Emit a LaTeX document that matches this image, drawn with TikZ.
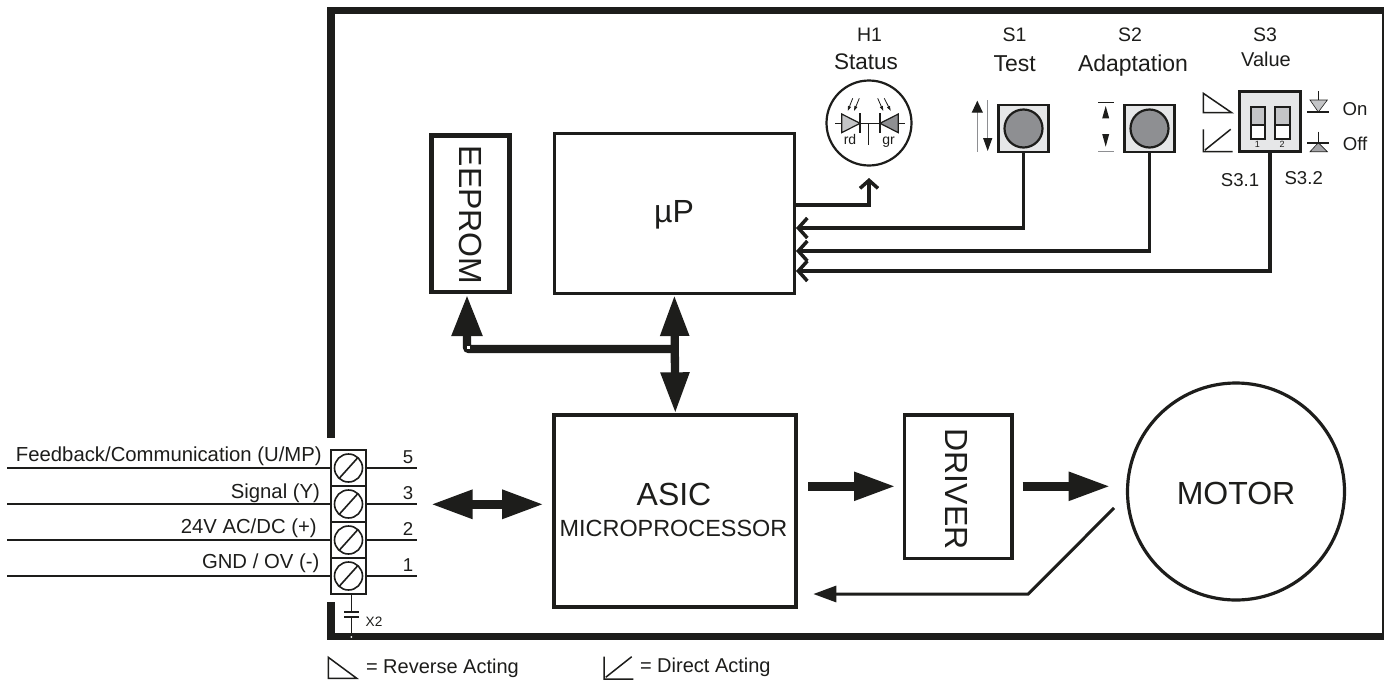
\documentclass[tikz,border=0pt]{standalone}
\usepackage{fontspec}
\setmainfont{Liberation Sans}
\usetikzlibrary{arrows.meta}
\definecolor{ink}{HTML}{1D1D1B}
\definecolor{panel}{HTML}{E6E7E8}
\definecolor{btn}{HTML}{8E8F92}
\definecolor{ltg}{HTML}{C4C5C7}
\newcommand\fsz[1]{\fontsize{#1}{#1}\selectfont}
\tikzset{
  every node/.style={inner sep=0pt,outer sep=0pt,text=ink},
  heavybox/.style={draw=ink,line width=4.2pt,fill=white,align=center},
  thinbox/.style={draw=ink,line width=2.2pt,fill=panel},
  frameline/.style={draw=ink,line width=7.5pt},
  bigarrow/.style={draw=ink,line width=9.3pt,-{Triangle[length=42pt,width=26.5pt,fill=ink]}},
  buswire/.style={draw=ink,line width=8.3pt,{Triangle[length=41pt,width=27pt,fill=ink]}-{Triangle[length=41pt,width=27pt,fill=ink]}},
  sigwire/.style={draw=ink,line width=3.5pt,-{Straight Barb[length=9pt,width=20pt,line width=3.5pt]}},
  wire/.style={draw=ink,line width=1.6pt},
  fine/.style={draw=ink,line width=1.2pt},
  cell/.style={draw=ink,line width=1.6pt,fill=white,minimum width=35pt,minimum height=36pt},
  screw/.style={draw=ink,line width=1.6pt,circle,minimum size=28pt,fill=white}
}
\begin{document}
\begin{tikzpicture}[x=1pt,y=-1pt]
\useasboundingbox (0,0) rectangle (1384,681);
\fill[white] (0,0) rectangle (1384,681);
% frame
\draw[frameline] (1386,636.5) -- (1386,10.5) -- (331,10.5) -- (331,438);
\draw[frameline] (331,602) -- (331,636.5) -- (1386,636.5);
% main boxes
\node[heavybox,line width=4.5pt,minimum width=78pt,minimum height=156.5pt] (eeprom) at (470.5,213.5) {};
\node[rotate=-90,font=\fsz{32}] at (471,215) {EEPROM};
\node[heavybox,line width=3pt,minimum width=240.3pt,minimum height=160pt] (up) at (674.35,213.5) {};
\node[font=\fsz{32},anchor=base] (uplabel) at (674,222) {µP};
\node[heavybox,minimum width=242pt,minimum height=192pt] (asic) at (675.3,511.3) {};
\node[font=\fsz{32},anchor=base] (asiclabel) at (674,505) {ASIC};
\node[font=\fsz{23.4},anchor=base] (asicsub) at (673.5,536) {MICROPROCESSOR};
\node[heavybox,line width=3.5pt,minimum width=107.8pt,minimum height=143.2pt] (driver) at (958.3,486.7) {};
\node[rotate=-90,font=\fsz{32}] at (956.7,489) {DRIVER};
\node[draw=ink,line width=3.2pt,circle,minimum size=217pt,fill=white] (motor) at (1236,491.5) {};
\node[font=\fsz{32},anchor=base] (motorlabel) at (1236,504) {MOTOR};
% H1
\node[draw=ink,line width=2.2pt,circle,minimum size=85pt,fill=white] (h1) at (869,123) {};
\node[font=\fsz{19.5},anchor=base] at (869.6,41.3) {H1};
\node[font=\fsz{22.5},anchor=base] at (866,69.3) {Status};
\draw[fine] (835,123.3) -- (905,123.3);
\draw[fine] (868.7,123.3) -- (868.7,145);
\draw[fine,fill=ltg] (841.7,114) -- (841.7,132.7) -- (860,123.3) -- cycle;
\draw[fine,fill=btn] (898.3,114) -- (898.3,132.7) -- (880,123.3) -- cycle;
\draw[fine] (860,113.3) -- (860,133.3) (880,113.3) -- (880,133.3);
\foreach \a/\b/\c/\d in {852.7/98.3/847.7/111,859.3/98.3/854/111,877.7/98.3/883.3/111,884.3/98.3/890.7/111}
  \draw[draw=ink,line width=.8pt,-{Triangle[length=5pt,width=3pt]}] (\a,\b) -- (\c,\d);
\node[font=\fsz{14},anchor=base] (rd) at (850,144) {rd};
\node[font=\fsz{14},anchor=base] (gr) at (888.5,144) {gr};
% S1
\node[font=\fsz{19.5},anchor=base] at (1014.6,41.3) {S1};
\node[font=\fsz{23},anchor=base] at (1014.7,71) {Test};
\node[thinbox,minimum width=50pt,minimum height=47pt] (s1) at (1023.5,128.5) {};
\node[draw=ink,line width=2.2pt,circle,minimum size=38pt,fill=btn] (s1b) at (1023.5,128.5) {};
\draw[draw=btn,line width=1.2pt,-{Triangle[length=12pt,width=11pt,color=ink]}] (977.3,151.7) -- (977.3,100.7);
\draw[draw=btn,line width=1.2pt,-{Triangle[length=13pt,width=9pt,color=ink]}] (987.7,100) -- (987.7,151);
% S2
\node[font=\fsz{19.5},anchor=base] at (1130,41.3) {S2};
\node[font=\fsz{23},anchor=base] at (1133,71) {Adaptation};
\node[thinbox,minimum width=50pt,minimum height=47pt] (s2) at (1149.5,128.5) {};
\node[draw=ink,line width=2.2pt,circle,minimum size=38pt,fill=btn] (s2b) at (1149.5,128.5) {};
\draw[fine] (1098,102.3) -- (1114,102.3);
\draw[draw=btn,line width=1.2pt] (1098,151.7) -- (1114,151.7);
\fill[ink] (1105.7,106) -- (1102.2,118.3) -- (1109.2,118.3) -- cycle;
\fill[ink] (1105.7,146.7) -- (1102.2,134) -- (1109.2,134) -- cycle;
% S3
\node[font=\fsz{19.5},anchor=base] at (1265,41.3) {S3};
\node[font=\fsz{20},anchor=base] at (1266,66) {Value};
\node[thinbox,minimum width=61pt,minimum height=60pt] (s3) at (1270,121.5) {};
\foreach \xa/\xb in {1250.7/1265,1275/1290}{
  \fill[white] (\xa,125) rectangle (\xb,139);
  \fill[ltg] (\xa,106.7) rectangle (\xb,125);
  \draw[draw=ink,line width=2pt] (\xa,106.7) rectangle (\xb,139) (\xa,125) -- (\xb,125);
}
\node[font=\fsz{9},anchor=base] at (1257.3,147.7) {1};
\node[font=\fsz{9},anchor=base] at (1282,147.7) {2};
\draw[fine,line width=1.5pt] (1203.3,93.3) -- (1203.3,112.7) -- (1231.7,112.7) -- cycle;
\draw[fine,line width=1.5pt] (1203.3,129.3) -- (1203.3,151.7) -- (1232.7,151.7) (1205,150) -- (1230.7,129.3);
\draw[fine] (1318.3,91) -- (1318.3,100);
\draw[draw=ink,line width=.6pt,fill=ltg] (1310,100) -- (1327.3,100) -- (1318.3,112) -- cycle;
\draw[draw=ink,line width=1.8pt] (1307.3,111.7) -- (1329,111.7);
\draw[fine] (1318.3,131.7) -- (1318.3,143);
\draw[draw=ink,line width=.6pt,fill=btn!80!white] (1310,151.7) -- (1327.3,151.7) -- (1318.3,142.7) -- cycle;
\draw[draw=ink,line width=1.8pt] (1307.3,142.7) -- (1329,142.7);
\node[font=\fsz{18.6},anchor=base] at (1355,115) {On};
\node[font=\fsz{18.6},anchor=base] at (1355,150.7) {Off};
\node[font=\fsz{18.6},anchor=base] at (1240,186) {S3.1};
\node[font=\fsz{18.6},anchor=base] at (1303.7,184) {S3.2};
% uP connectors
\coordinate (pin0) at (796,205);
\coordinate (pin1) at (796,228);
\coordinate (pin2) at (796,251);
\coordinate (pin3) at (796,271);
\coordinate (h1in) at (869,178);
\draw[sigwire,-{Straight Barb[length=8pt,width=18pt,line width=3.5pt]}] (pin0) -| (h1in);
\draw[sigwire] (s1.south) |- (pin1);
\draw[sigwire] (s2.south) |- (pin2);
\draw[sigwire] (s3.south) |- (pin3);
% bus
\coordinate (busj) at (675,349);
\coordinate (eepin) at (467,295);
\draw[buswire,shorten <=1.5pt,shorten >=2pt] (up.south) -- (asic.north);
\draw[draw=ink,line width=8.3pt,rounded corners=2pt,-{Triangle[length=41pt,width=29pt,fill=ink]}] (busj) -| (eepin);
\fill[white] (466.5,345.5) rectangle (470,349);
% power arrows
\coordinate (ta) at (430.7,504.3);
\coordinate (asicin) at (544,504.3);
\draw[draw=ink,line width=9pt,{Triangle[length=42pt,width=27pt,fill=ink]}-{Triangle[length=42pt,width=27pt,fill=ink]}] (ta) -- (asicin);
\coordinate (a1) at (808,486.3);
\coordinate (a2) at (896,486.3);
\coordinate (a3) at (1022.7,486.3);
\coordinate (a4) at (1110.7,486.3);
\draw[bigarrow] (a1) -- (a2);
\draw[bigarrow] (a3) -- (a4);
\coordinate (fb0) at (1114,508);
\coordinate (fb1) at (1028.3,594);
\coordinate (fb2) at (813.3,594);
\draw[draw=ink,line width=3pt,-{Triangle[length=23pt,width=16pt,fill=ink]}] (fb0) -- (fb1) -- (fb2);
% terminals
\foreach \n/\y/\rx/\by/\ltext in {5/468/321.7/461.7/{Feedback/Communication (U/MP)},3/504/320/498.3/{Signal (Y)},2/540/316.7/533.3/{24V AC/DC (+)},1/576/319.3/568.3/{GND / OV (-)}}{
  \node[cell] (cell\n) at (348.5,\y) {};
  \node[screw] (screw\n) at (348.5,\y) {};
  \draw[wire] (339.5,\y+10) -- (357.5,\y-10);
  \coordinate (lw\n) at (7.3,\y);
  \coordinate (rw\n) at (417,\y);
  \draw[wire] (lw\n) -- (cell\n.west);
  \draw[wire] (cell\n.east) -- (rw\n);
  \node[font=\fsz{18.6},anchor=base] at (408,\y-4.7) {\n};
  \node[font=\fsz{20.3},anchor=base east] at (\rx,\by) {\ltext};
}
% capacitor
\coordinate (gnd) at (351.3,636.5);
\draw[wire] (cell1.south -| gnd) -- (351.3,611.7) (351.3,616.7) -- (gnd);
\draw[draw=ink,line width=2pt] (344.3,611.7) -- (359,611.7) (344.3,616.7) -- (359,616.7);
\fill[white] (351.3,637) circle (1pt);
\node[font=\fsz{13.6},anchor=base] at (374,626.7) {X2};
% legend
\draw[draw=ink,line width=1.5pt] (328.3,657.3) -- (328.3,678.3) -- (356.7,678.3) -- cycle;
\node[font=\fsz{20},anchor=base west] at (366,673.3) {= Reverse Acting};
\draw[draw=ink,line width=1.5pt] (604,656.7) -- (604,679) -- (633.3,679) (605.7,677.3) -- (631.7,656.7);
\node[font=\fsz{20},anchor=base west] at (640,672.7) {= Direct Acting};
\end{tikzpicture}
\end{document}
